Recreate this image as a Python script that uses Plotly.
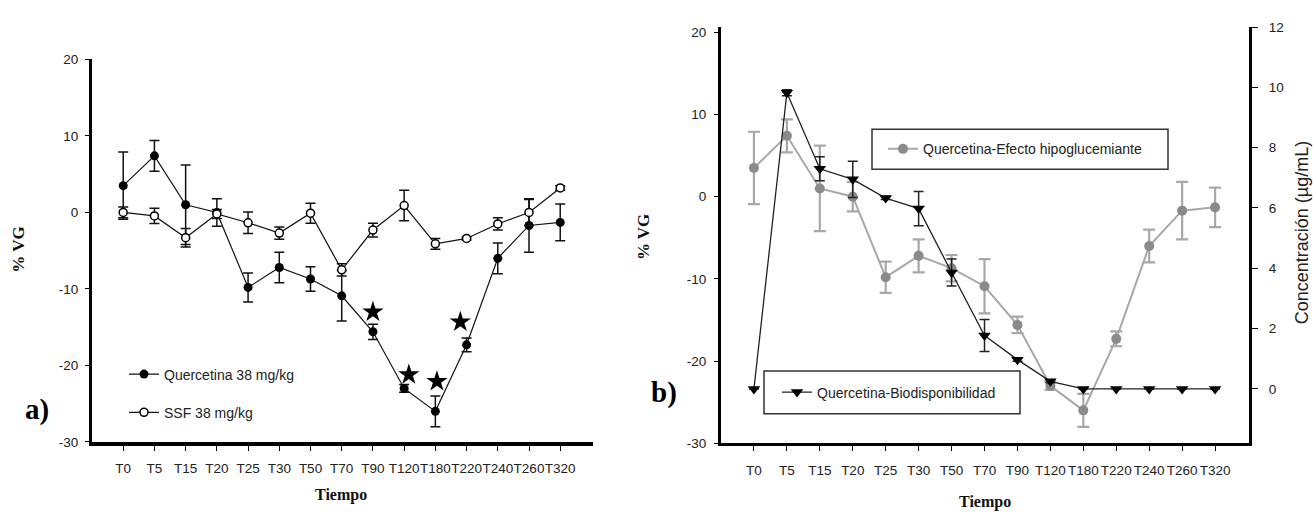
import plotly.graph_objects as go

# ---------------- data ----------------
categories = ["T0", "T5", "T15", "T20", "T25", "T30", "T50", "T70", "T90",
              "T120", "T180", "T220", "T240", "T260", "T320"]

# Panel a) and gray series of panel b): %VG
quercetina_mean = [3.5, 7.4, 1.0, 0.0, -9.8, -7.2, -8.7, -10.9, -15.6, -23.0, -26.0, -17.3, -6.0, -1.7, -1.3]
quercetina_err = [4.4, 2.0, 5.2, 1.8, 1.9, 2.0, 1.6, 3.3, 1.0, 0.5, 2.0, 0.9, 2.0, 3.5, 2.4]

ssf_mean = [0.0, -0.45, -3.3, -0.2, -1.35, -2.7, -0.1, -7.5, -2.3, 0.9, -4.1, -3.4, -1.5, 0.0, 3.2]
ssf_err = [0.7, 1.0, 1.2, 0.6, 1.4, 0.8, 1.3, 0.8, 0.9, 2.0, 0.7, 0.2, 0.8, 1.7, 0.3]

# significance stars (category index, %VG)
star_x = [8.0, 9.15, 10.05, 10.8]
star_y = [-13.0, -21.2, -22.1, -14.3]

# Panel b) bioavailability: concentration (µg/mL)
bio_mean = [0.0, 9.82, 7.3, 6.95, 6.33, 5.98, 3.86, 1.77, 0.97, 0.25, 0.0, 0.0, 0.0, 0.0, 0.0]
bio_err = [0.0, 0.1, 0.4, 0.6, 0.05, 0.57, 0.45, 0.53, 0.05, 0.05, 0.0, 0.0, 0.0, 0.0, 0.0]

y_ticks_vg = [-30, -20, -10, 0, 10, 20]
y_ticks_conc = [0, 2, 4, 6, 8, 10, 12]

# ---------------- figure ----------------
W, H = 1313, 516
idx = list(range(len(categories)))
SANS = "Liberation Sans, Arial, sans-serif"
SERIF = "Liberation Serif, Times New Roman, serif"


def px_x(p):
    return p / W


def px_y(p):
    return 1 - p / H


fig = go.Figure()

# Panel a
fig.add_trace(go.Scatter(
    x=idx, y=quercetina_mean, name="Quercetina 38 mg/kg",
    mode="lines+markers", xaxis="x", yaxis="y",
    line=dict(color="#111111", width=1.2),
    marker=dict(symbol="circle", size=9, color="#000000"),
    error_y=dict(type="data", array=quercetina_err, visible=True,
                 thickness=1.5, width=5, color="#111111"),
    legend="legend", legendgroup="q",
))
fig.add_trace(go.Scatter(
    x=idx, y=ssf_mean, name="SSF 38 mg/kg",
    mode="lines+markers", xaxis="x", yaxis="y",
    line=dict(color="#111111", width=1.2),
    marker=dict(symbol="circle", size=8, color="#ffffff",
                line=dict(color="#000000", width=1.5)),
    error_y=dict(type="data", array=ssf_err, visible=True,
                 thickness=1.5, width=5, color="#111111"),
    legend="legend", legendgroup="s",
))
fig.add_trace(go.Scatter(
    x=star_x, y=star_y, mode="markers", xaxis="x", yaxis="y",
    marker=dict(symbol="star", size=16, color="#000000"),
    showlegend=False, hoverinfo="skip",
))

# Panel b
fig.add_trace(go.Scatter(
    x=idx, y=quercetina_mean, name="Quercetina-Efecto hipoglucemiante",
    mode="lines+markers", xaxis="x2", yaxis="y2",
    line=dict(color="#a8a8a8", width=2),
    marker=dict(symbol="circle", size=10, color="#8a8a8a"),
    error_y=dict(type="data", array=quercetina_err, visible=True,
                 thickness=2.2, width=6, color="#a8a8a8"),
    legend="legend2",
))
fig.add_trace(go.Scatter(
    x=idx, y=bio_mean, name="Quercetina-Biodisponibilidad",
    mode="lines+markers", xaxis="x2", yaxis="y3",
    line=dict(color="#222222", width=1.3),
    marker=dict(symbol="triangle-down", size=11, color="#000000"),
    error_y=dict(type="data", array=bio_err, visible=True,
                 thickness=1.5, width=5, color="#222222"),
    legend="legend3",
))

axis_common = dict(showgrid=False, zeroline=False, showline=True,
                   linecolor="#000000", ticks="outside", tickcolor="#000000",
                   tickwidth=1, tickangle=0,
                   tickfont=dict(family=SANS, size=13.5, color="#222222"))

vg_text = [str(v) for v in y_ticks_vg]
conc_text = [str(v) for v in y_ticks_conc]

fig.update_layout(
    width=W, height=H,
    margin=dict(l=0, r=0, t=0, b=0),
    paper_bgcolor="#ffffff", plot_bgcolor="#ffffff",
    xaxis=dict(domain=[px_x(92), px_x(593)], range=[-1, 15.05], anchor="y",
               tickmode="array", tickvals=idx, ticktext=categories,
               linewidth=4, ticklen=5, ticklabelstandoff=6, **axis_common),
    yaxis=dict(domain=[1 - 448 / H, 1 - 54 / H], range=[-30, 20], anchor="x",
               tickmode="array", tickvals=y_ticks_vg, ticktext=vg_text,
               linewidth=3, ticklen=4, ticklabelstandoff=4, **axis_common),
    xaxis2=dict(domain=[px_x(721), px_x(1249)], range=[-1, 15.03], anchor="y2",
                tickmode="array", tickvals=idx, ticktext=categories,
                linewidth=3, ticklen=5, ticklabelstandoff=8, **axis_common),
    yaxis2=dict(domain=[1 - 449.3 / H, 1 - 20.7 / H], range=[-30, 20.63], anchor="x2",
                tickmode="array", tickvals=y_ticks_vg, ticktext=vg_text,
                linewidth=3, ticklen=4, ticklabelstandoff=5, **axis_common),
    yaxis3=dict(overlaying="y2", side="right", anchor="x2", range=[-1.803, 12.0],
                tickmode="array", tickvals=y_ticks_conc, ticktext=conc_text,
                linewidth=3, ticklen=6, ticklabelstandoff=8, **axis_common),
    legend=dict(x=px_x(124), y=px_y(362), xanchor="left", yanchor="top",
                bgcolor="rgba(0,0,0,0)", borderwidth=0,
                font=dict(family=SANS, size=14, color="#222222"),
                traceorder="grouped", tracegroupgap=17),
    legend2=dict(x=px_x(883), y=px_y(146.5), xanchor="left", yanchor="middle",
                 bgcolor="rgba(0,0,0,0)", borderwidth=0,
                 font=dict(family=SANS, size=14, color="#222222")),
    legend3=dict(x=px_x(777), y=px_y(397), xanchor="left", yanchor="middle",
                 bgcolor="rgba(0,0,0,0)", borderwidth=0,
                 font=dict(family=SANS, size=14, color="#222222")),
    shapes=[
        dict(type="rect", xref="paper", yref="paper",
             x0=px_x(872), x1=px_x(1168), y0=px_y(167), y1=px_y(126),
             line=dict(color="#333333", width=1.5), fillcolor="#ffffff", layer="below"),
        dict(type="rect", xref="paper", yref="paper",
             x0=px_x(764), x1=px_x(1020), y0=px_y(419), y1=px_y(375),
             line=dict(color="#333333", width=1.5), fillcolor="#ffffff", layer="below"),
    ],
    showlegend=True,
)

annotations = [
    dict(text="<b>% VG</b>", x=px_x(19), y=px_y(250), textangle=-90,
         font=dict(family=SERIF, size=17, color="#111111")),
    dict(text="<b>Tiempo</b>", x=px_x(341), y=px_y(503),
         font=dict(family=SERIF, size=16, color="#111111")),
    dict(text="<b>a)</b>", x=px_x(37), y=px_y(415),
         font=dict(family=SERIF, size=29, color="#000000")),
    dict(text="<b>% VG</b>", x=px_x(643), y=px_y(237), textangle=-90,
         font=dict(family=SERIF, size=17, color="#111111")),
    dict(text="<b>Tiempo</b>", x=px_x(985), y=px_y(510),
         font=dict(family=SERIF, size=16, color="#111111")),
    dict(text="<b>b)</b>", x=px_x(664), y=px_y(397),
         font=dict(family=SERIF, size=29, color="#000000")),
    dict(text="Concentración (µg/mL)", x=px_x(1302), y=px_y(233), textangle=-90,
         font=dict(family=SANS, size=18, color="#222222")),
]
for a in annotations:
    a.update(xref="paper", yref="paper", xanchor="center", yanchor="middle",
             showarrow=False)
fig.update_layout(annotations=annotations)

fig.write_html("out.html")
